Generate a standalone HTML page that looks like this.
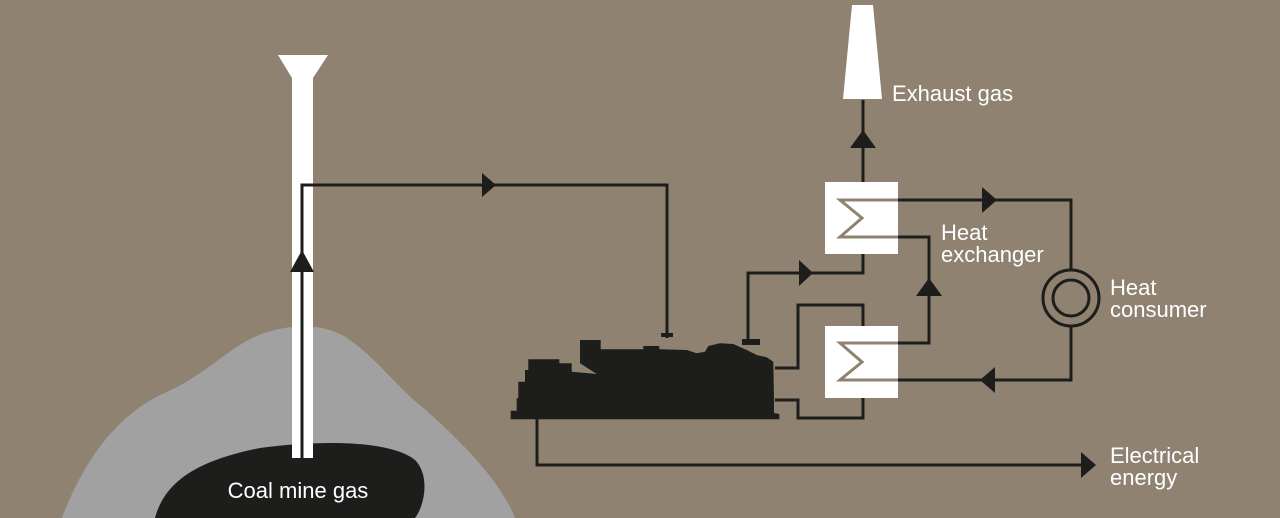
<!DOCTYPE html>
<html><head><meta charset="utf-8"><style>
html,body{margin:0;padding:0;background:#8f8270;}
svg{display:block}
text{font-family:"Liberation Sans",Arial,sans-serif;fill:#fff;font-size:22px}
</style></head><body>
<svg width="1280" height="518" viewBox="0 0 1280 518" xmlns="http://www.w3.org/2000/svg">
<rect width="1280" height="518" fill="#8f8270"/>
<path d="M62,518 C80,470 110,420 160,395 C200,378 215,360 240,345 C270,325 320,318 350,340 C380,362 395,385 420,405 C460,440 500,480 515,518 Z" fill="#a1a1a1"/>
<path d="M155,518 C165,480 200,460 260,448 C320,440 390,440 415,460 C430,475 425,505 415,518 Z" fill="#1d1d1b"/>
<text x="298" y="498" text-anchor="middle">Coal mine gas</text>
<polygon points="278,55 328,55 313,78 292,78" fill="#fff"/>
<rect x="292" y="78" width="21" height="380" fill="#fff"/>
<g fill="none" stroke="#1d1d1b" stroke-width="3">
<polyline points="302,458 302,185 667,185 667,338"/>
<polyline points="748,340 748,273 863,273 863,254"/>
<polyline points="775,368 798,368 798,305 863,305 863,326"/>
<polyline points="775,400 798,400 798,418 863,418 863,398"/>
<polyline points="898,343 929,343 929,237 898,237"/>
<polyline points="863,182 863,100"/>
<polyline points="898,200 1071,200 1071,269"/>
<polyline points="1071,327 1071,380 898,380"/>
<polyline points="537,419 537,465 1085,465"/>
<circle cx="1071" cy="298" r="28"/>
<circle cx="1071" cy="298" r="18"/>
</g>
<g fill="#1d1d1b">
<polygon points="302,250 290,272 314,272"/>
<polygon points="496,185 482,173 482,197"/>
<polygon points="813,273 799,260 799,286"/>
<polygon points="929,278 916,296 942,296"/>
<polygon points="863,130 850,148 876,148"/>
<polygon points="997,200 982,187 982,213"/>
<polygon points="980,380 995,367 995,393"/>
<polygon points="1096,465 1081,452 1081,478"/>
<rect x="661" y="333" width="12" height="4"/>
<rect x="742" y="339" width="18" height="6"/>
<polygon points="510.7,419.3 510.7,410.7 516.7,410.7 516.7,398.3 518.3,398.3 518.3,381.7 525,381.7 525,370 528.3,370 528.3,359.3 559.3,359.3 559.3,363.3 571.7,363.3 571.7,371.7 596.7,374 580,363.3 580,340 600.7,340 600.7,349.3 643.3,349.3 643.3,346 659.3,346 659.3,349.3 686.7,350 696.7,353.3 705,351.7 708.3,346 720,343.3 733.3,344 746.7,350 756.7,355 766.7,357.3 773.3,361.7 774,400 774,413 779.3,414 779.3,419.3"/>
</g>
<polygon points="852,5 873,5 882,99 843,99" fill="#fff"/>
<text x="892" y="101">Exhaust gas</text>
<rect x="825" y="182" width="73" height="72" fill="#fff"/>
<rect x="825" y="326" width="73" height="72" fill="#fff"/>
<g fill="none" stroke="#8f8270" stroke-width="3">
<polyline points="898,200 840,200 862,218 840,237 898,237"/>
<polyline points="898,343 840,343 862,362 840,380 898,380"/>
</g>
<text x="941" y="240">Heat</text>
<text x="941" y="262">exchanger</text>
<text x="1110" y="295">Heat</text>
<text x="1110" y="317">consumer</text>
<text x="1110" y="463">Electrical</text>
<text x="1110" y="485">energy</text>
</svg>
</body></html>
